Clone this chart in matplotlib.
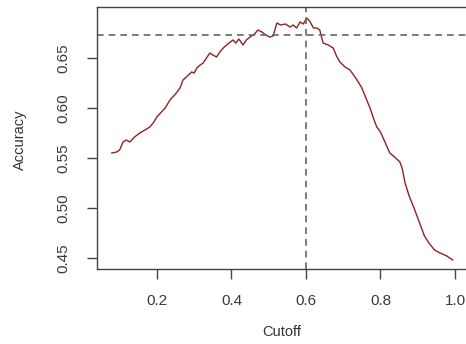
import matplotlib
matplotlib.use("Agg")
import matplotlib.pyplot as plt

# accuracy vs cutoff
cutoff = [0.079, 0.092, 0.100, 0.109, 0.118, 0.127, 0.140, 0.154, 0.168, 0.181, 0.190,
          0.200, 0.212, 0.222, 0.235, 0.250, 0.262, 0.270, 0.282, 0.293, 0.300, 0.307,
          0.316, 0.324, 0.333, 0.342, 0.350, 0.360, 0.369, 0.378, 0.390, 0.404, 0.412,
          0.420, 0.431, 0.440, 0.450, 0.462, 0.471, 0.482, 0.492, 0.503, 0.512, 0.522,
          0.532, 0.545, 0.557, 0.566, 0.575, 0.584, 0.593, 0.602, 0.610, 0.620, 0.629,
          0.637, 0.646, 0.660, 0.673, 0.682, 0.691, 0.705, 0.718, 0.728, 0.737, 0.750,
          0.763, 0.772, 0.780, 0.790, 0.800, 0.812, 0.825, 0.838, 0.852, 0.858, 0.866,
          0.877, 0.890, 0.905, 0.918, 0.930, 0.945, 0.960, 0.978, 0.994]
accuracy = [0.555, 0.556, 0.558, 0.566, 0.568, 0.566, 0.571, 0.575, 0.578, 0.581, 0.585,
            0.591, 0.596, 0.600, 0.608, 0.614, 0.620, 0.628, 0.632, 0.636, 0.635, 0.640,
            0.643, 0.645, 0.650, 0.655, 0.653, 0.651, 0.656, 0.660, 0.664, 0.668, 0.665,
            0.669, 0.663, 0.668, 0.671, 0.674, 0.678, 0.676, 0.673, 0.671, 0.672, 0.685,
            0.683, 0.684, 0.681, 0.683, 0.680, 0.686, 0.684, 0.690, 0.687, 0.680, 0.680,
            0.678, 0.665, 0.663, 0.660, 0.652, 0.646, 0.641, 0.638, 0.633, 0.628, 0.620,
            0.608, 0.600, 0.591, 0.581, 0.576, 0.566, 0.555, 0.551, 0.546, 0.540, 0.525,
            0.512, 0.500, 0.485, 0.472, 0.465, 0.458, 0.455, 0.452, 0.448]

best_cutoff = 0.6
best_line = 0.673

plt.rcParams["font.family"] = ["Liberation Sans", "DejaVu Sans"]

fig = plt.figure(figsize=(4.66, 3.44), dpi=100)
ax = fig.add_axes([0.208, 0.218, 0.8004, 0.7616])

ax.plot(cutoff, accuracy, color="#8e2222", lw=1.0)
ax.axhline(best_line, color="#666666", lw=1.2, ls=(0, (4, 3)))
ax.axvline(best_cutoff, color="#666666", lw=1.2, ls=(0, (4, 3)))

ax.set_xlim(0.039, 1.040)
ax.set_ylim(0.439, 0.701)
ax.set_xticks([0.2, 0.4, 0.6, 0.8, 1.0])
ax.set_xticklabels(["0.2", "0.4", "0.6", "0.8", "1.0"])
ax.set_yticks([0.45, 0.50, 0.55, 0.60, 0.65])
ax.set_yticklabels(["0.45", "0.50", "0.55", "0.60", "0.65"], rotation=90, va="center")

for s in ax.spines.values():
    s.set_color("#444444")
    s.set_linewidth(1.0)
ax.tick_params(length=7, width=1.0, color="#444444", labelsize=11, labelcolor="#3a3a3a")
ax.tick_params(axis="x", pad=11)
ax.tick_params(axis="y", pad=12)

fig.text(282 / 466, 1 - 332 / 344, "Cutoff", ha="center", va="center", fontsize=10.5, color="#333333")
fig.text(20 / 466, 1 - 140 / 344, "Accuracy", ha="center", va="center", rotation=90,
         fontsize=10.5, color="#333333")

fig.savefig("out.png", dpi=100)
